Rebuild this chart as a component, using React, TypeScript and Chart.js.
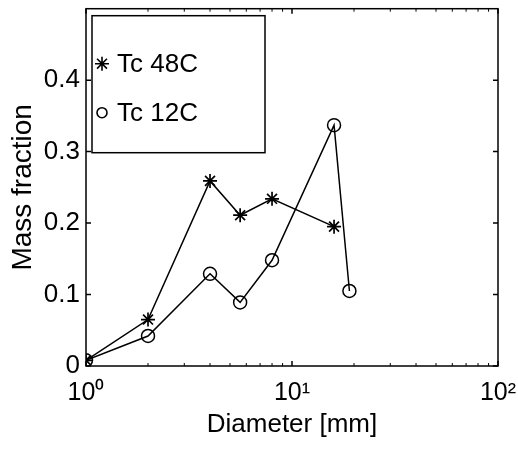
import React, { useEffect, useRef } from 'react';
import { Chart, registerables } from 'chart.js';

Chart.register(...registerables);

const diam48 = [1, 2, 4, 5.6, 8, 16];
const mass48 = [0.008, 0.065, 0.259, 0.211, 0.234, 0.195];
const diam12 = [1, 2, 4, 5.6, 8, 16, 19];
const mass12 = [0.008, 0.042, 0.129, 0.089, 0.148, 0.337, 0.105];
const seriesLabels = ['Tc 48C', 'Tc 12C'];
const seriesMarkers = ['star', 'circle'];
const xTickValues = [1, 10, 100];
const xTickLabels = ['10⁰', '10¹', '10²'];
const yTickValues = [0, 0.1, 0.2, 0.3, 0.4];
const yTickLabels = ['0', '0.1', '0.2', '0.3', '0.4'];
const xTitle = 'Diameter [mm]';
const yTitle = 'Mass fraction';

const FONT = '"Liberation Sans", Arial, Helvetica, sans-serif';

function drawMarker(ctx: CanvasRenderingContext2D, style: string, x: number, y: number, r: number) {
  ctx.beginPath();
  if (style === 'star') {
    for (let k = 0; k < 4; k++) {
      const a = (k * Math.PI) / 4;
      ctx.moveTo(x - r * Math.cos(a), y - r * Math.sin(a));
      ctx.lineTo(x + r * Math.cos(a), y + r * Math.sin(a));
    }
  } else {
    ctx.arc(x, y, r, 0, Math.PI * 2);
  }
  ctx.stroke();
}

const framePlugin = {
  id: 'matlabFrame',
  afterDraw(chart: any) {
    const { ctx, chartArea, scales } = chart;
    const { left, right, top, bottom } = chartArea;
    const xs = scales.x;
    const ys = scales.y;
    ctx.save();
    ctx.strokeStyle = '#000';
    ctx.lineWidth = 1.5;
    ctx.strokeRect(left, top, right - left, bottom - top);
    ctx.beginPath();
    yTickValues.forEach((v) => {
      const py = ys.getPixelForValue(v);
      ctx.moveTo(left, py);
      ctx.lineTo(left + 5, py);
      ctx.moveTo(right, py);
      ctx.lineTo(right - 5, py);
    });
    xTickValues.forEach((v) => {
      const px = xs.getPixelForValue(v);
      ctx.moveTo(px, bottom);
      ctx.lineTo(px, bottom - 5);
      ctx.moveTo(px, top);
      ctx.lineTo(px, top + 5);
    });
    ctx.stroke();
    ctx.lineWidth = 1;
    ctx.beginPath();
    for (let d = 0; d < xTickValues.length - 1; d++) {
      for (let k = 2; k <= 9; k++) {
        const px = xs.getPixelForValue(k * xTickValues[d]);
        ctx.moveTo(px, bottom);
        ctx.lineTo(px, bottom - 3);
        ctx.moveTo(px, top);
        ctx.lineTo(px, top + 3);
      }
    }
    ctx.stroke();

    // legend box
    const lx = left + 6;
    const ly = top + 7;
    const lw = 173;
    const lh = 137;
    ctx.fillStyle = '#fff';
    ctx.fillRect(lx, ly, lw, lh);
    ctx.lineWidth = 1.5;
    ctx.strokeRect(lx, ly, lw, lh);
    ctx.font = `26px ${FONT}`;
    ctx.textBaseline = 'middle';
    ctx.textAlign = 'left';
    ctx.fillStyle = '#000';
    chart.data.datasets.forEach((ds: any, i: number) => {
      const cy = top + 55 + i * 49;
      ctx.lineWidth = 1.6;
      drawMarker(ctx, seriesMarkers[i], left + 16, cy, seriesMarkers[i] === 'star' ? 7 : 5);
      ctx.fillText(ds.label, left + 31, cy + 1);
    });
    ctx.restore();
  },
};

export default function App() {
  const canvasRef = useRef<HTMLCanvasElement | null>(null);

  useEffect(() => {
    const canvas = canvasRef.current;
    if (!canvas) return;
    Chart.defaults.font.family = FONT;
    Chart.defaults.color = '#000';
    const chart = new Chart(canvas, {
      type: 'line',
      data: {
        datasets: [
          {
            label: seriesLabels[0],
            data: diam48.map((d, i) => ({ x: d, y: mass48[i] })),
            borderColor: '#000',
            borderWidth: 1.5,
            pointStyle: 'star',
            pointRadius: 7,
            pointBorderWidth: 1.7,
            pointBorderColor: '#000',
            pointBackgroundColor: 'transparent',
            tension: 0,
          },
          {
            label: seriesLabels[1],
            data: diam12.map((d, i) => ({ x: d, y: mass12[i] })),
            borderColor: '#000',
            borderWidth: 1.5,
            pointStyle: 'circle',
            pointRadius: 6.5,
            pointBorderWidth: 1.5,
            pointBorderColor: '#000',
            pointBackgroundColor: 'transparent',
            tension: 0,
          },
        ],
      },
      options: {
        animation: false,
        responsive: false,
        maintainAspectRatio: false,
        layout: { padding: { left: 0, top: 5, right: 20, bottom: 0 } },
        plugins: {
          legend: { display: false },
          tooltip: { enabled: false },
        },
        scales: {
          x: {
            type: 'logarithmic',
            position: 'bottom',
            min: 1,
            max: 100,
            grid: { display: false, drawTicks: false },
            border: { display: false },
            afterBuildTicks: (s: any) => {
              s.ticks = xTickValues.map((v) => ({ value: v }));
            },
            afterFit: (s: any) => {
              s.height = 85;
              s.paddingLeft = 0;
              s.paddingRight = 0;
            },
            ticks: {
              autoSkip: false,
              maxRotation: 0,
              padding: 12,
              color: '#000',
              font: { size: 25, family: FONT },
              callback: (v: any) => xTickLabels[xTickValues.indexOf(Number(v))] ?? '',
            },
            title: {
              display: true,
              text: xTitle,
              color: '#000',
              font: { size: 26, family: FONT },
              padding: { top: 0, bottom: 11 },
            },
          },
          y: {
            type: 'linear',
            min: 0,
            max: 0.5,
            grid: { display: false, drawTicks: false },
            border: { display: false },
            afterBuildTicks: (s: any) => {
              s.ticks = yTickValues.map((v) => ({ value: v }));
            },
            afterFit: (s: any) => {
              s.width = 86;
              s.paddingTop = 0;
              s.paddingBottom = 0;
            },
            ticks: {
              autoSkip: false,
              padding: 6,
              color: '#000',
              font: { size: 26, family: FONT },
              callback: (v: any) => {
                const idx = yTickValues.findIndex((t) => Math.abs(t - Number(v)) < 1e-9);
                return idx >= 0 ? yTickLabels[idx] : '';
              },
            },
            title: {
              display: true,
              text: yTitle,
              color: '#000',
              font: { size: 28, family: FONT },
              padding: { top: 6, bottom: 0 },
            },
          },
        },
      },
      plugins: [framePlugin],
    } as any);
    return () => chart.destroy();
  }, []);

  return (
    <div style={{ position: 'fixed', left: 0, top: 0, width: 518, height: 451, background: '#fff' }}>
      <canvas ref={canvasRef} width={518} height={451} style={{ display: 'block', width: 518, height: 451 }} />
    </div>
  );
}
